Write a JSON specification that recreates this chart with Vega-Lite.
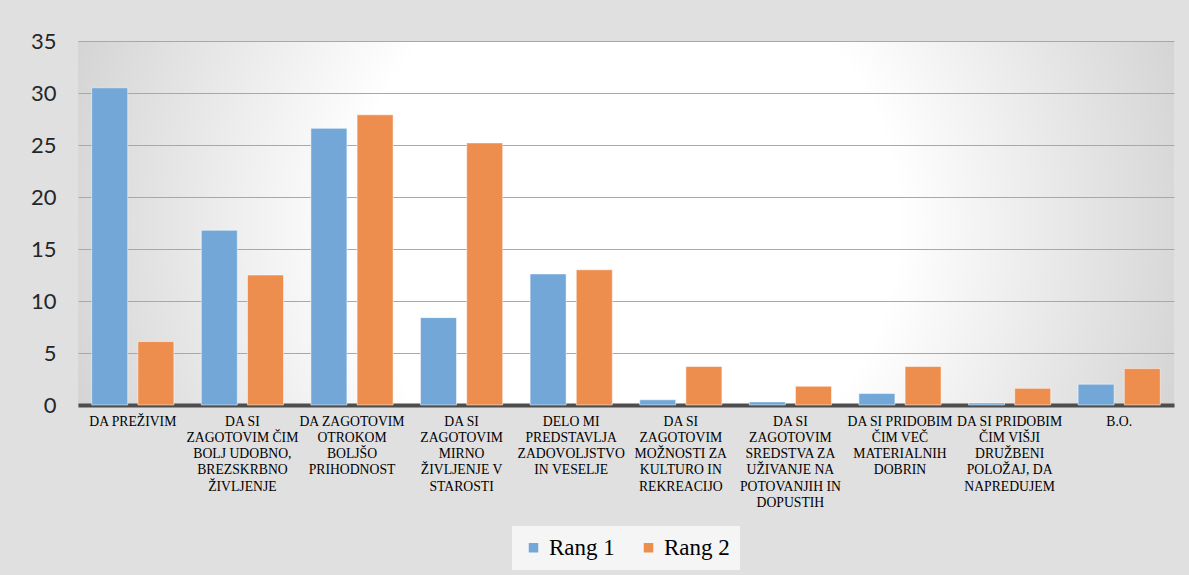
{
  "$schema": "https://vega.github.io/schema/vega-lite/v6.json",
  "autosize": {"type": "none"},
  "padding": {"left": 78, "top": 41, "right": 15, "bottom": 170},
  "width": 1096,
  "height": 364,
  "background": "#e0e0e0",
  "data": {
    "values": [
      {"kategorija": "DA PREŽIVIM", "rang": "Rang 1", "vrednost": 30.5},
      {"kategorija": "DA PREŽIVIM", "rang": "Rang 2", "vrednost": 6.1},
      {"kategorija": "DA SI|ZAGOTOVIM ČIM|BOLJ UDOBNO,|BREZSKRBNO|ŽIVLJENJE", "rang": "Rang 1", "vrednost": 16.8},
      {"kategorija": "DA SI|ZAGOTOVIM ČIM|BOLJ UDOBNO,|BREZSKRBNO|ŽIVLJENJE", "rang": "Rang 2", "vrednost": 12.5},
      {"kategorija": "DA ZAGOTOVIM|OTROKOM|BOLJŠO|PRIHODNOST", "rang": "Rang 1", "vrednost": 26.6},
      {"kategorija": "DA ZAGOTOVIM|OTROKOM|BOLJŠO|PRIHODNOST", "rang": "Rang 2", "vrednost": 27.9},
      {"kategorija": "DA SI|ZAGOTOVIM|MIRNO|ŽIVLJENJE V|STAROSTI", "rang": "Rang 1", "vrednost": 8.4},
      {"kategorija": "DA SI|ZAGOTOVIM|MIRNO|ŽIVLJENJE V|STAROSTI", "rang": "Rang 2", "vrednost": 25.2},
      {"kategorija": "DELO MI|PREDSTAVLJA|ZADOVOLJSTVO|IN VESELJE", "rang": "Rang 1", "vrednost": 12.6},
      {"kategorija": "DELO MI|PREDSTAVLJA|ZADOVOLJSTVO|IN VESELJE", "rang": "Rang 2", "vrednost": 13.0},
      {"kategorija": "DA SI|ZAGOTOVIM|MOŽNOSTI ZA|KULTURO IN|REKREACIJO", "rang": "Rang 1", "vrednost": 0.5},
      {"kategorija": "DA SI|ZAGOTOVIM|MOŽNOSTI ZA|KULTURO IN|REKREACIJO", "rang": "Rang 2", "vrednost": 3.7},
      {"kategorija": "DA SI|ZAGOTOVIM|SREDSTVA ZA|UŽIVANJE NA|POTOVANJIH IN|DOPUSTIH", "rang": "Rang 1", "vrednost": 0.3},
      {"kategorija": "DA SI|ZAGOTOVIM|SREDSTVA ZA|UŽIVANJE NA|POTOVANJIH IN|DOPUSTIH", "rang": "Rang 2", "vrednost": 1.8},
      {"kategorija": "DA SI PRIDOBIM|ČIM VEČ|MATERIALNIH|DOBRIN", "rang": "Rang 1", "vrednost": 1.1},
      {"kategorija": "DA SI PRIDOBIM|ČIM VEČ|MATERIALNIH|DOBRIN", "rang": "Rang 2", "vrednost": 3.7},
      {"kategorija": "DA SI PRIDOBIM|ČIM VIŠJI|DRUŽBENI|POLOŽAJ, DA|NAPREDUJEM", "rang": "Rang 1", "vrednost": 0.2},
      {"kategorija": "DA SI PRIDOBIM|ČIM VIŠJI|DRUŽBENI|POLOŽAJ, DA|NAPREDUJEM", "rang": "Rang 2", "vrednost": 1.6},
      {"kategorija": "B.O.", "rang": "Rang 1", "vrednost": 2.0},
      {"kategorija": "B.O.", "rang": "Rang 2", "vrednost": 3.5}
    ]
  },
  "mark": {"type": "bar", "stroke": "#ffffff", "strokeWidth": 1, "strokeOpacity": 0.5},
  "encoding": {
    "x": {
      "field": "kategorija",
      "type": "nominal",
      "sort": null,
      "scale": {"paddingInner": 0.25, "paddingOuter": 0.125},
      "axis": {
        "title": null,
        "labelAngle": 0,
        "labelExpr": "split(datum.label, '|')",
        "labelFont": "Liberation Serif",
        "labelFontSize": 13.7,
        "labelLineHeight": 16.3,
        "labelColor": "#000000",
        "labelBaseline": "top",
        "labelPadding": 9,
        "labelLimit": 200,
        "ticks": false,
        "domainColor": "#4d4d4d",
        "domainWidth": 4
      }
    },
    "xOffset": {
      "field": "rang",
      "type": "nominal",
      "scale": {"paddingInner": 0.22, "paddingOuter": 0}
    },
    "y": {
      "field": "vrednost",
      "type": "quantitative",
      "scale": {"domain": [0, 35], "nice": false},
      "axis": {
        "title": null,
        "values": [0, 5, 10, 15, 20, 25, 30, 35],
        "labelFont": "Lato",
        "labelFontSize": 22,
        "labelColor": "#262626",
        "labelPadding": 22,
        "ticks": false,
        "domain": false,
        "gridColor": "#a8a8a8",
        "gridWidth": 1.2
      }
    },
    "color": {
      "field": "rang",
      "type": "nominal",
      "scale": {"domain": ["Rang 1", "Rang 2"], "range": ["#72a7d8", "#ee8e4e"]},
      "legend": {
        "title": null,
        "orient": "bottom",
        "direction": "horizontal",
        "symbolType": "square",
        "symbolSize": 90,
        "symbolStrokeWidth": 0,
        "labelFont": "Liberation Serif",
        "labelFontSize": 23,
        "labelColor": "#000000",
        "columnPadding": 22,
        "padding": 10,
        "fillColor": "#f5f5f5",
        "offset": 16
      }
    }
  },
  "config": {
    "legend": {"layout": {"bottom": {"anchor": "middle"}}},
    "view": {
      "stroke": null,
      "fill": {
        "gradient": "radial",
        "x1": 0.5, "y1": 0.5, "r1": 0,
        "x2": 0.5, "y2": 0.5, "r2": 0.62,
        "stops": [
          {"offset": 0, "color": "#ffffff"},
          {"offset": 0.4, "color": "#ffffff"},
          {"offset": 1, "color": "#c6c6c6"}
        ]
      }
    }
  }
}
